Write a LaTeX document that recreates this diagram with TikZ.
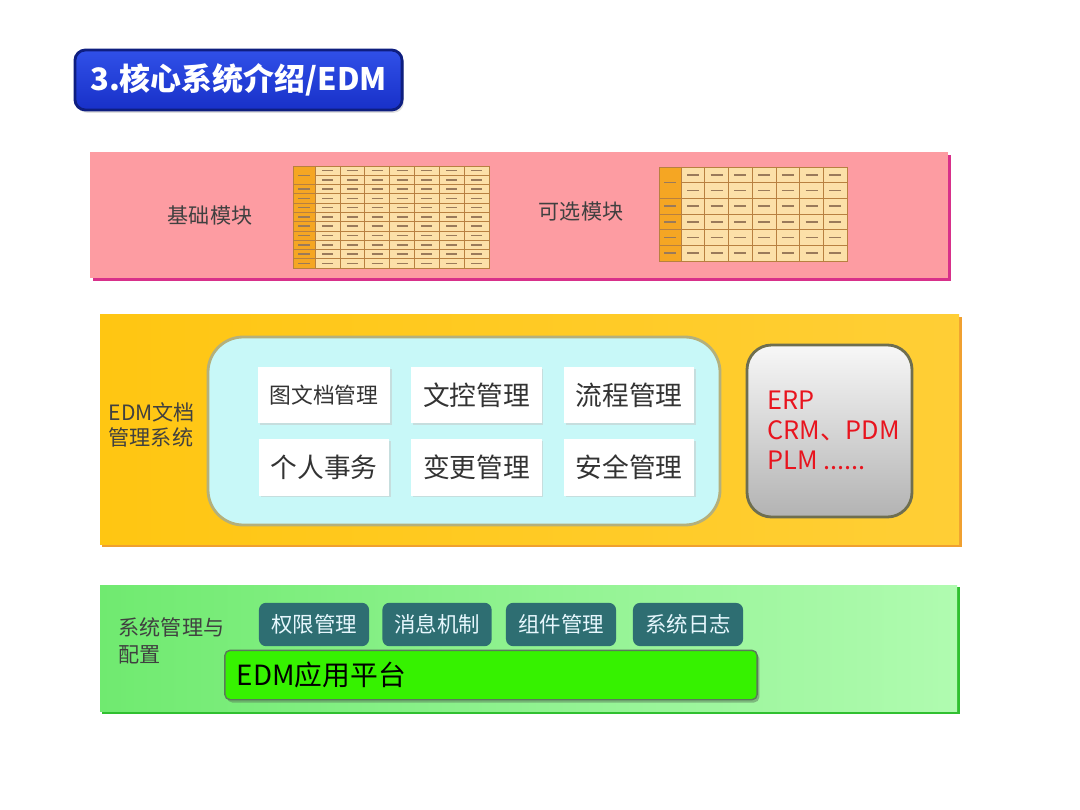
\documentclass[tikz,border=0pt]{standalone}
\usepackage{fontspec}
\setmainfont{Noto Sans CJK SC}
\usepackage{tikz}
\usetikzlibrary{positioning, shadows}
\definecolor{EDMTitleBlue}{HTML}{1830C8}
\definecolor{EDMTitleLight}{HTML}{3050E8}
\definecolor{EDMTitleDark}{HTML}{0E1E80}
\definecolor{EDMPink}{HTML}{FD9CA2}
\definecolor{EDMPinkEdge}{HTML}{D8308A}
\definecolor{EDMYellow}{HTML}{FFC612}
\definecolor{EDMYellowLight}{HTML}{FFF0A6}
\definecolor{EDMYellowEdge}{HTML}{F0A030}
\definecolor{EDMCyan}{HTML}{C8F8F8}
\definecolor{EDMCyanEdge}{HTML}{B4B07C}
\definecolor{EDMGrayEdge}{HTML}{6E6E50}
\definecolor{EDMRed}{HTML}{E8141E}
\definecolor{EDMGreen}{HTML}{70EA70}
\definecolor{EDMGreenLight}{HTML}{B0FBB0}
\definecolor{EDMGreenEdge}{HTML}{30C030}
\definecolor{EDMTeal}{HTML}{2E6E72}
\definecolor{EDMLime}{HTML}{36F200}
\definecolor{EDMLimeEdge}{HTML}{5A7A5A}
\definecolor{TableTan}{HTML}{FCE0A8}
\definecolor{TableOrange}{HTML}{F5A623}
\definecolor{TableLine}{HTML}{B88040}
\definecolor{TableInk}{HTML}{9A7A5A}
\tikzset{
    % Title and band labels
    titlebox/.style={
        rectangle,
        rounded corners=3pt,
        draw=EDMTitleDark,
        top color=EDMTitleLight,
        bottom color=EDMTitleBlue,
        thick,
        text=white,
        font=\fontsize{8.8}{10}\selectfont\bfseries,
        drop shadow={shadow xshift=0.5pt, shadow yshift=-0.8pt, opacity=0.25}
    },
    bandlabel/.style={
        text=black!75,
        font=\fontsize{6}{7}\selectfont
    },
    sidelabel/.style={
        align=left,
        text=black!75,
        inner sep=0pt,
        font=\fontsize{6}{7.3}\selectfont
    },
    % Module boxes
    modbox/.style={
        rectangle,
        fill=white,
        minimum width=1.27cm,
        minimum height=0.56cm,
        text=black!80,
        font=\fontsize{7.6}{9}\selectfont,
        drop shadow={shadow xshift=0.5pt, shadow yshift=-0.5pt, fill=gray!45}
    },
    tealbox/.style={
        rectangle,
        rounded corners=2pt,
        fill=EDMTeal,
        minimum height=0.41cm,
        text=white!90!cyan,
        font=\fontsize{6.1}{7}\selectfont
    },
    platformbar/.style={
        rectangle,
        rounded corners=1.5pt,
        draw=EDMLimeEdge,
        fill=EDMLime,
        minimum width=5.32cm,
        minimum height=0.34cm,
        text width=5.08cm,
        align=left,
        font=\fontsize{7.9}{9}\selectfont,
        drop shadow={shadow xshift=0.6pt, shadow yshift=-0.8pt, fill=EDMLimeEdge}
    },
    cellline/.style={draw=TableLine, line width=0.2pt},
    cellink/.style={draw=TableInk, line width=0.45pt}
}
\begin{document}
\begin{tikzpicture}[x=0.01cm, y=-0.01cm]
    \useasboundingbox (0,0) rectangle (1080,810);
    \fill[white] (0,0) rectangle (1080,810);

    % Title
    \node[titlebox, minimum width=3.27cm, minimum height=0.6cm] (title) at (238.5,80) {3.核心系统介绍/EDM};

    % Basic layer (top)
    \fill[EDMPinkEdge] (93,155) rectangle (951,281);
    \fill[EDMPink] (90,152) rectangle (948,278);
    \node[bandlabel] (basic) at (210,216) {基础模块};
    \node[bandlabel] (optional) at (581,212) {可选模块};

    % Table of basic modules
    \fill[TableTan] (315,166) rectangle (489,268);
    \fill[TableOrange] (293,166) rectangle (315,268);
    \foreach \r in {1,...,10}
        \draw[cellline] (293,166+\r*9.27) -- (489,166+\r*9.27);
    \fill[TableOrange] (293.3,166.3) rectangle (314.7,184.2);
    \foreach \c in {0,...,7}
        \draw[cellline] (315+\c*24.86,166) -- (315+\c*24.86,268);
    \draw[cellline] (293,166) rectangle (489,268);
    \foreach \r in {0,...,10}
        \foreach \c in {0,...,6}
            \draw[cellink] (315+\c*24.86+7,166+\r*9.27+4.6) -- ++(11,0);
    \foreach \r in {2,...,10}
        \draw[cellink] (298,166+\r*9.27+4.6) -- ++(12,0);
    \draw[cellink] (298,175.3) -- ++(12,0);

    % Table of optional modules
    \fill[TableTan] (681,167) rectangle (847,261);
    \fill[TableOrange] (659,167) rectangle (681,261);
    \foreach \r in {1,...,5}
        \draw[cellline] (659,167+\r*15.67) -- (847,167+\r*15.67);
    \fill[TableOrange] (659.3,167.3) rectangle (680.7,198.1);
    \foreach \c in {0,...,7}
        \draw[cellline] (681+\c*23.71,167) -- (681+\c*23.71,261);
    \draw[cellline] (659,167) rectangle (847,261);
    \foreach \r in {0,...,5}
        \foreach \c in {0,...,6}
            \draw[cellink] (681+\c*23.71+6,167+\r*15.67+7.8) -- ++(12,0);
    \foreach \r in {2,...,5}
        \draw[cellink] (664,167+\r*15.67+7.8) -- ++(12,0);
    \draw[cellink] (664,182.7) -- ++(12,0);

    % EDM document layer (middle)
    \fill[EDMYellowEdge] (102,317) rectangle (962,547);
    \shade[left color=EDMYellow, middle color=EDMYellowLight, right color=EDMYellow!85!white] (100,315) rectangle (959,544);
    \node[sidelabel, anchor=west] (edmlabel) at (108,425) {EDM文档\\管理系统};

    \draw[EDMCyanEdge, fill=EDMCyan, thick, rounded corners=10pt] (208,337) rectangle (720,525);
    \node[modbox, font=\fontsize{6.2}{8}\selectfont] (drawing) at (324,395) {图文档管理};
    \node[modbox] (control) at (476.5,395) {文控管理};
    \node[modbox] (workflow) at (629,395) {流程管理};
    \node[modbox] (personal) at (324,467.5) {个人事务};
    \node[modbox] (change) at (476.5,467.5) {变更管理};
    \node[modbox] (security) at (629,467.5) {安全管理};

    \draw[EDMGrayEdge, line width=0.8pt, rounded corners=7pt, top color=white!94!gray, bottom color=black!30] (747,345) rectangle (912,517);
    \node[anchor=west, align=left, inner sep=0pt, text=EDMRed, font=\fontsize{7.2}{8.5}\selectfont] (erp) at (767,430) {ERP\\CRM、PDM\\PLM ......};

    % System management layer (bottom)
    \fill[EDMGreenEdge] (102,587) rectangle (960,714);
    \shade[left color=EDMGreen, right color=EDMGreenLight] (100,585) rectangle (957,711);
    \node[sidelabel, anchor=west, font=\fontsize{6}{7.6}\selectfont] (syslabel) at (118,641) {系统管理与\\配置};

    \node[tealbox, minimum width=1.10cm] (rights) at (314,624.5) {权限管理};
    \node[tealbox, minimum width=1.02cm] (message) at (437,624.5) {消息机制};
    \node[tealbox, minimum width=1.10cm] (component) at (561,624.5) {组件管理};
    \node[tealbox, minimum width=1.10cm] (syslog) at (688,624.5) {系统日志};

    \node[platformbar] (platform) at (491,675) {EDM应用平台};
\end{tikzpicture}
\end{document}
